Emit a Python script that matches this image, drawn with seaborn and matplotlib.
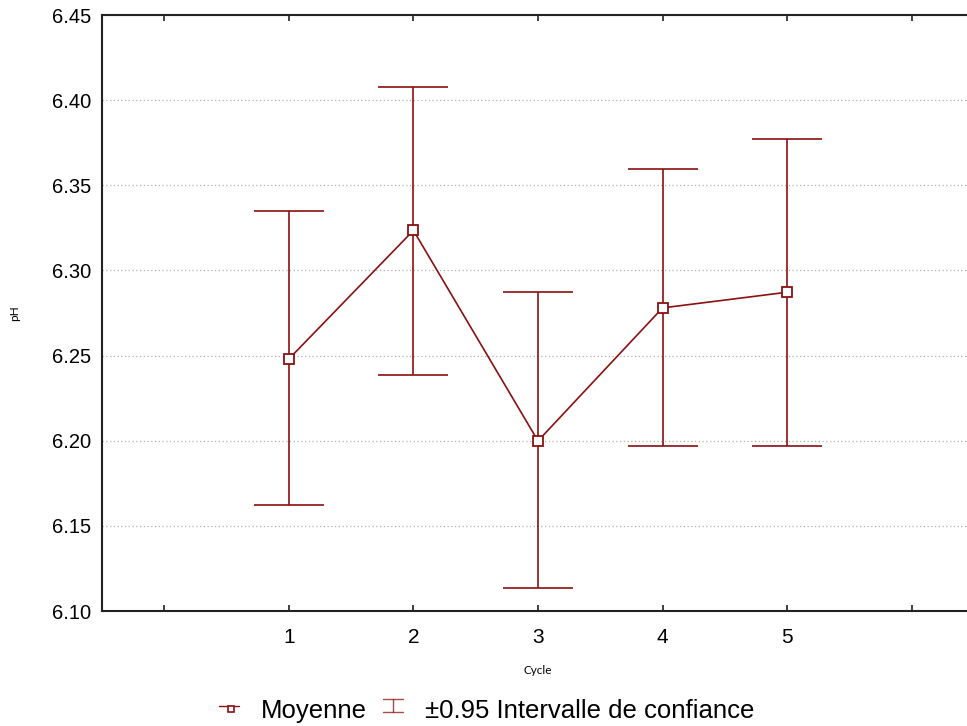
import matplotlib
matplotlib.use("Agg")
import matplotlib.pyplot as plt
import seaborn as sns
import numpy as np
import pandas as pd
from matplotlib.lines import Line2D
from matplotlib.legend_handler import HandlerBase

cycles = [1, 2, 3, 4, 5]
means = [6.248, 6.3235, 6.1999, 6.278, 6.2872]
ci_low = [6.162, 6.2387, 6.1135, 6.197, 6.197]
ci_high = [6.335, 6.408, 6.2874, 6.3597, 6.3773]
xtick_pos = [0, 1, 2, 3, 4, 5, 6]
xtick_labels = ["", "1", "2", "3", "4", "5", ""]
ytick_vals = [6.10, 6.15, 6.20, 6.25, 6.30, 6.35, 6.40, 6.45]
legend_labels = ["Moyenne", "±0.95 Intervalle de confiance"]

sns.set_theme(style="white")
plt.rcParams['font.family'] = ['Liberation Sans', 'DejaVu Sans']
plt.rcParams['text.color'] = 'black'
plt.rcParams['xtick.color'] = 'black'
plt.rcParams['ytick.color'] = 'black'
plt.rcParams['axes.labelcolor'] = 'black'

color = "#8b1010"
fig = plt.figure(figsize=(9.67, 7.26), dpi=100)
ax = fig.add_axes([102/967, 1-611/726, (974-102)/967, (611-15)/726])

df = pd.DataFrame({"Cycle": cycles, "pH": means})
m = np.array(means)
yerr = [m - np.array(ci_low), np.array(ci_high) - m]
ax.errorbar(cycles, means, yerr=yerr, fmt='none', ecolor=color,
            elinewidth=1.2, capsize=25, capthick=1.2, zorder=2)
sns.lineplot(data=df, x="Cycle", y="pH", ax=ax, color=color, lw=1.2,
             marker='s', markersize=7, markerfacecolor='white',
             markeredgecolor=color, markeredgewidth=1.3, zorder=3)

ax.set_xlim(-0.5, 6.5)
ax.set_ylim(6.10, 6.45)
ax.set_xticks(xtick_pos)
ax.set_xticklabels(xtick_labels, fontsize=15)
ax.set_yticks(ytick_vals)
ax.set_yticklabels([f"{v:.2f}" for v in ytick_vals], fontsize=14.5)
ax.tick_params(axis='x', direction='in', length=4, width=1.2, color='#222222',
               top=True, bottom=True, pad=12)
ax.tick_params(axis='y', length=0, pad=7.5)
for s in ['left', 'bottom', 'top', 'right']:
    ax.spines[s].set_color('#222222')
    ax.spines[s].set_linewidth(1.5)
ax.yaxis.grid(True, linestyle=(0, (1, 2)), color='#b0b0b0', lw=0.9)
ax.xaxis.grid(False)
ax.set_axisbelow(True)
ax.set_xlabel("Cycle", fontsize=8.5, labelpad=13, family=['Lato', 'DejaVu Sans'])
ax.set_ylabel("pH", fontsize=8.5, labelpad=23, family=['Lato', 'DejaVu Sans'])


class HandlerMean(HandlerBase):
    def create_artists(self, legend, orig_handle, xdescent, ydescent,
                       width, height, fontsize, trans):
        x0 = -xdescent
        yc = -ydescent + height / 2 + 2.5
        ln = Line2D([x0, x0 + width], [yc, yc], color=color, lw=1.0,
                    transform=trans)
        sq = Line2D([x0 + width * 0.62], [yc - 2.2], marker='s', markersize=4.5,
                    markerfacecolor='white', markeredgecolor=color,
                    markeredgewidth=1.2, linestyle='none', transform=trans)
        return [ln, sq]


class HandlerCI(HandlerBase):
    def create_artists(self, legend, orig_handle, xdescent, ydescent,
                       width, height, fontsize, trans):
        x0 = -xdescent
        yc = -ydescent + height / 2 + 2.5
        h = 4.7
        xm = x0 + width / 2
        top = Line2D([x0, x0 + width], [yc + h, yc + h], color=color, lw=1.0,
                     alpha=0.75, transform=trans)
        bot = Line2D([x0, x0 + width], [yc - h, yc - h], color=color, lw=1.0,
                     alpha=0.75, transform=trans)
        vert = Line2D([xm, xm], [yc - h, yc + h], color=color, lw=1.0,
                      alpha=0.75, transform=trans)
        return [top, bot, vert]


mean_proxy = Line2D([], [], color=color)
ci_proxy = Line2D([], [], color=color, ls='--')
fig.legend([mean_proxy, ci_proxy], legend_labels,
           handler_map={mean_proxy: HandlerMean(), ci_proxy: HandlerCI()},
           loc='center', bbox_to_anchor=(486.5/967, 1-711/726), ncol=2,
           frameon=False, fontsize=18.5, handlelength=0.8, handleheight=0.7,
           columnspacing=0.6, handletextpad=0.85)

fig.savefig("out.png", dpi=100)
